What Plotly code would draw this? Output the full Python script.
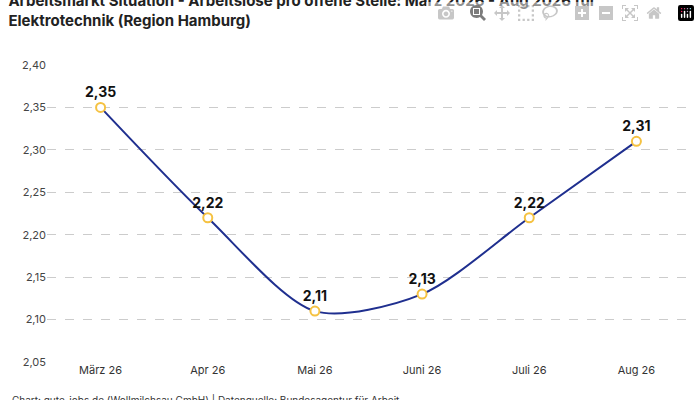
import plotly.graph_objects as go

months = ["März 26", "Apr 26", "Mai 26", "Juni 26", "Juli 26", "Aug 26"]
ratio = [2.35, 2.22, 2.11, 2.13, 2.22, 2.31]
labels = [f"{v:.2f}".replace(".", ",") for v in ratio]
y_ticks = [2.05, 2.10, 2.15, 2.20, 2.25, 2.30, 2.35, 2.40]

fig = go.Figure(go.Scatter(
    x=months, y=ratio, mode="lines+markers+text",
    line=dict(color="#1f2f8f", width=2, shape="spline", smoothing=0.8),
    marker=dict(size=9, color="white", line=dict(color="#f5c242", width=2)),
    text=labels, textposition="top center",
    textfont=dict(size=14, color="#111", family="Inter", weight="bold"),
    cliponaxis=False,
))
fig.update_layout(
    width=700, height=400,
    margin=dict(l=47, r=10, t=65, b=38),
    plot_bgcolor="white", paper_bgcolor="white",
    font=dict(family="Inter", color="#333", size=11),
    title=dict(
        text="<b>Arbeitsmarkt Situation - Arbeitslose pro offene Stelle: März 2026 - Aug 2026 für<br>Elektrotechnik (Region Hamburg)</b>",
        x=0.012, xanchor="left", y=0.985, yanchor="top",
        font=dict(size=15, color="#222"),
    ),
    showlegend=False,
)
fig.update_xaxes(showgrid=False, ticks="", tickfont=dict(size=11, color="#333"),
                 range=[-0.5, 5.5])
fig.update_yaxes(range=[2.05, 2.40], tickvals=y_ticks,
                 ticktext=[f"{v:.2f}".replace(".", ",") for v in y_ticks],
                 gridcolor="#cccccc", griddash="dash", zeroline=False,
                 tickfont=dict(size=11, color="#444"))
fig.add_annotation(text="Chart: gute-jobs.de (Wollmilchsau GmbH) | Datenquelle: Bundesagentur für Arbeit",
                   xref="paper", yref="paper", x=-0.058, y=-0.1, xanchor="left", yanchor="top",
                   showarrow=False, font=dict(size=10, color="#333"))
fig.write_html("out.html",
               post_script="document.body.style.margin='0';document.body.style.overflow='hidden';window.scrollTo(0,0);")
